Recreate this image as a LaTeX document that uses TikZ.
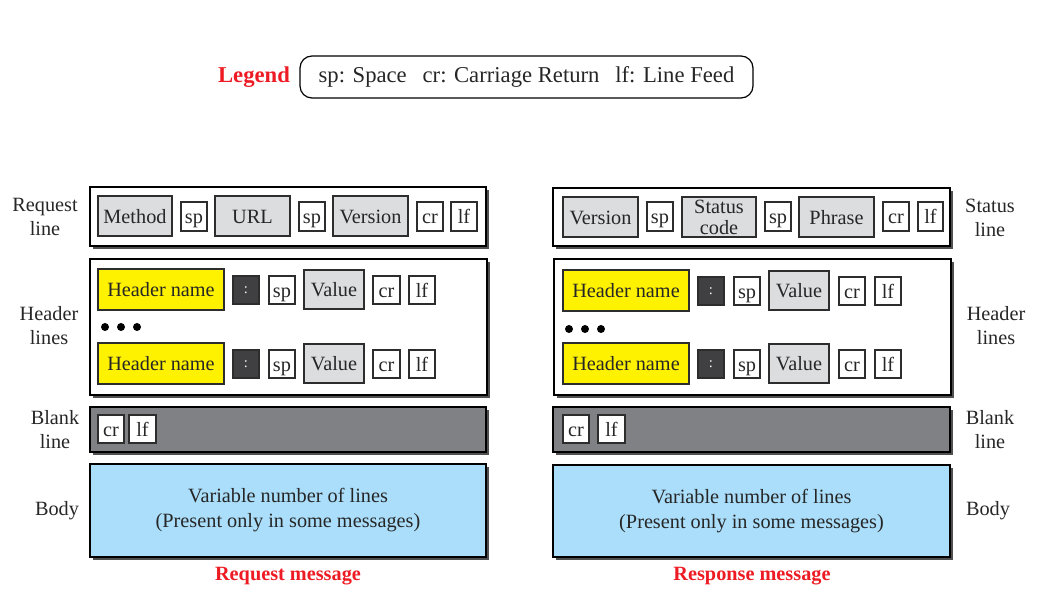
\documentclass[tikz,border=0pt]{standalone}
\usepackage{fontspec}
\setmainfont{Liberation Serif}
\usetikzlibrary{shadows}
\definecolor{fieldgray}{RGB}{220,221,223}
\definecolor{darkbox}{RGB}{64,64,66}
\definecolor{blankgray}{RGB}{128,129,133}
\definecolor{bodyblue}{RGB}{170,222,250}
\definecolor{hyellow}{RGB}{255,242,0}
\definecolor{legred}{RGB}{237,28,36}
\definecolor{shadowc}{RGB}{80,80,80}
\definecolor{edgec}{RGB}{45,45,45}
\newcommand\fs{\fontsize{15.2}{18}\selectfont}
\newcommand\bx[7]{\node[#6, minimum width={(#4-#2)*0.75pt}, minimum height={(#5-#3)*0.75pt}] (#1) at ({(#2+#4)/2},{(#3+#5)/2}) {#7};}
\begin{document}
\begin{tikzpicture}[x=0.75pt,y=-0.75pt,
  every node/.style={inner sep=0pt, outer sep=0pt, font=\fs, text=black!85},
  oneline/.style={text height=12pt, text depth=1pt},
  outerbox/.style={draw=black, line width=0.9pt, fill=white, drop shadow={shadow xshift=2.2pt, shadow yshift=-2.2pt, fill=shadowc, opacity=1}},
  blankbox/.style={outerbox, fill=blankgray},
  bodybox/.style={outerbox, fill=bodyblue, align=center, font=\fontsize{15.2}{18.75}\selectfont},
  statfield/.style={draw=edgec, line width=0.8pt, fill=fieldgray},
  field/.style={statfield, oneline},
  small/.style={draw=edgec, line width=0.8pt, fill=white, oneline},
  hname/.style={draw=edgec, line width=0.8pt, fill=hyellow, oneline},
  colonbox/.style={draw=edgec, line width=0.8pt, fill=darkbox, text=white, font=\fontsize{11}{12}\selectfont},
  sidelabel/.style={align=center},
  caption/.style={text=legred, font=\fontsize{15.2}{18}\selectfont\bfseries},
  dot/.style={circle, fill=black, minimum size=6pt}
]
\useasboundingbox (0,0) rectangle (1049,598);

% Legend
\node[text=legred, font=\fontsize{17}{19}\selectfont\bfseries] (legend) at (254,77) {Legend};
\bx{legbox}{300}{56}{753}{98}{draw=black, line width=0.9pt, rounded corners=9pt, font=\fontsize{17}{19}\selectfont}{sp: Space\hspace{0.7em}cr: Carriage Return\hspace{0.7em}lf: Line Feed}

% ---------------- Request message ----------------
\bx{reqline}{90}{187}{486}{246}{outerbox}{}
\bx{rmethod}{98}{196}{172}{236}{field}{Method}
\bx{rsp1}{181}{202}{207}{231}{small}{sp}
\bx{rurl}{215}{196}{290}{236}{field}{URL}
\bx{rsp2}{299}{202}{325}{231}{small}{sp}
\bx{rver}{333}{196}{408}{236}{field}{Version}
\bx{rcr}{417}{202}{443}{231}{small}{cr}
\bx{rlf}{451}{202}{477}{231}{small}{lf}

\bx{rhead}{90}{259}{487}{395}{outerbox}{}
\bx{rhn1}{98}{269}{224}{310}{hname}{Header name}
\bx{rco1}{233}{276}{259}{304}{colonbox}{:}
\bx{rsa1}{269}{276}{295}{304}{small}{sp}
\bx{rva1}{304}{270}{364}{309}{field}{Value}
\bx{rcra1}{373}{276}{400}{304}{small}{cr}
\bx{rlfa1}{409}{276}{435}{304}{small}{lf}
\node[dot] (rd1) at (105,327) {};
\node[dot] (rd2) at (121,327) {};
\node[dot] (rd3) at (137,327) {};
\bx{rhn2}{98}{343}{224}{384}{hname}{Header name}
\bx{rco2}{233}{350}{259}{378}{colonbox}{:}
\bx{rsa2}{269}{350}{295}{378}{small}{sp}
\bx{rva2}{304}{344}{364}{383}{field}{Value}
\bx{rcra2}{373}{350}{400}{378}{small}{cr}
\bx{rlfa2}{409}{350}{435}{378}{small}{lf}

\bx{rblank}{90}{407}{486}{452}{blankbox}{}
\bx{rbcr}{98}{415}{124}{443}{small}{cr}
\bx{rblf}{129}{415}{156}{443}{small}{lf}

\bx{rbody}{90}{464}{486}{557}{bodybox}{Variable number of lines\\(Present only in some messages)}
\node[caption] (rcap) at (288,576) {Request message};

\node[sidelabel] (lreq) at (45,217) {Request\\line};
\node[sidelabel] (lhead) at (49,326) {Header\\lines};
\node[sidelabel] (lblank) at (55,430) {Blank\\line};
\node[sidelabel] (lbody) at (57,511) {Body};

% ---------------- Response message ----------------
\bx{sline}{553}{188}{950}{246}{outerbox}{}
\bx{sver}{563}{197}{638}{237}{field}{Version}
\bx{ssp1}{647}{202}{673}{231}{small}{sp}
\bx{sstat}{682}{197}{756}{237}{statfield, align=center, font=\fontsize{15.2}{15.75}\selectfont}{Status\\code}
\bx{ssp2}{765}{202}{791}{231}{small}{sp}
\bx{sphr}{799}{197}{874}{237}{field}{Phrase}
\bx{scr}{883}{202}{909}{231}{small}{cr}
\bx{slf}{918}{202}{943}{231}{small}{lf}

\bx{shead}{554}{259}{951}{395}{outerbox}{}
\bx{shn1}{563}{270}{689}{311}{hname}{Header name}
\bx{sco1}{698}{277}{724}{305}{colonbox}{:}
\bx{ssa1}{734}{277}{760}{305}{small}{sp}
\bx{sva1}{769}{271}{829}{310}{field}{Value}
\bx{scra1}{839}{277}{865}{305}{small}{cr}
\bx{slfa1}{875}{277}{901}{305}{small}{lf}
\node[dot] (sd1) at (569,329) {};
\node[dot] (sd2) at (585,329) {};
\node[dot] (sd3) at (601,329) {};
\bx{shn2}{563}{343}{689}{384}{hname}{Header name}
\bx{sco2}{698}{350}{724}{378}{colonbox}{:}
\bx{ssa2}{734}{350}{760}{378}{small}{sp}
\bx{sva2}{769}{344}{829}{383}{field}{Value}
\bx{scra2}{839}{350}{865}{378}{small}{cr}
\bx{slfa2}{875}{350}{901}{378}{small}{lf}

\bx{sblank}{553}{407}{950}{452}{blankbox}{}
\bx{sbcr}{563}{415}{589}{443}{small}{cr}
\bx{sblf}{598}{415}{625}{443}{small}{lf}

\bx{sbody}{553}{465}{950}{557}{bodybox}{Variable number of lines\\(Present only in some messages)}
\node[caption] (scap) at (752,576) {Response message};

\node[sidelabel] (rstat) at (990,218) {Status\\line};
\node[sidelabel] (rhl) at (996,326) {Header\\lines};
\node[sidelabel] (rbl) at (990,430) {Blank\\line};
\node[sidelabel] (rbd) at (988,511) {Body};
\end{tikzpicture}
\end{document}
